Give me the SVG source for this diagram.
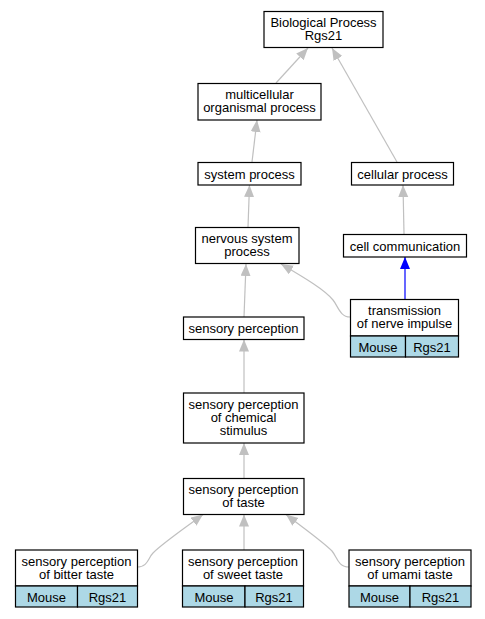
<svg xmlns="http://www.w3.org/2000/svg" width="485" height="619" viewBox="0 0 485 619">
<defs>
<style>
.box{fill:#fff;stroke:#000;stroke-width:1.2}
.cell{fill:#add8e6;stroke:#000;stroke-width:1.2}
text{font-family:"Liberation Sans",Arial,sans-serif;font-size:13px;text-anchor:middle;fill:#000}
.e{fill:none;stroke:#c0c0c0;stroke-width:1.2}
.b{fill:none;stroke:#0000ff;stroke-width:1.2}
</style>
<marker id="ag" markerUnits="userSpaceOnUse" markerWidth="13" markerHeight="11" refX="12" refY="5" orient="auto"><path d="M0,0 L12,5 L0,10 z" fill="#c0c0c0"/></marker>
<marker id="ab" markerUnits="userSpaceOnUse" markerWidth="13" markerHeight="11" refX="12" refY="5" orient="auto"><path d="M0,0 L12,5 L0,10 z" fill="#0000ff"/></marker>
</defs>
<rect width="485" height="619" fill="#fff"/>
<g id="edges">
<path class="e" d="M276,83 L308,48" marker-end="url(#ag)"/>
<path class="e" d="M397,162 L332,48" marker-end="url(#ag)"/>
<path class="e" d="M252,162 L257,120" marker-end="url(#ag)"/>
<path class="e" d="M248,227 L249.5,185" marker-end="url(#ag)"/>
<path class="e" d="M404,234 L403,185" marker-end="url(#ag)"/>
<path class="b" d="M405,299 L405,257" marker-end="url(#ab)"/>
<path class="e" d="M350,317 C340,317 338,306 333,300 C325,290 305,278 281,264" marker-end="url(#ag)"/>
<path class="e" d="M244,317 L246,264" marker-end="url(#ag)"/>
<path class="e" d="M244,393 L244,339.5" marker-end="url(#ag)"/>
<path class="e" d="M244,478 L244,443" marker-end="url(#ag)"/>
<path class="e" d="M137,567 C148,567 148,558 153,553 C163,543 185,528 203,514.5" marker-end="url(#ag)"/>
<path class="e" d="M244,550 L244,514.5" marker-end="url(#ag)"/>
<path class="e" d="M349,567 C338,567 337,557 332,551 C322,541 302,527 286,514.5" marker-end="url(#ag)"/>
</g>
<g id="bp"><rect class="box" x="264" y="11.5" width="119" height="36"/><text x="323.5" y="26.5">Biological Process</text><text x="323.5" y="39.5">Rgs21</text></g>
<g id="multicellular"><rect class="box" x="198" y="83.5" width="123" height="36.5"/><text x="259.5" y="98.5">multicellular</text><text x="259.5" y="111.5">organismal process</text></g>
<g id="system"><rect class="box" x="198" y="162.5" width="103" height="22.5"/><text x="249.5" y="178.5">system process</text></g>
<g id="cellular"><rect class="box" x="351.5" y="162.5" width="102" height="22.5"/><text x="402.5" y="178.5">cellular process</text></g>
<g id="nervous"><rect class="box" x="195.5" y="227.5" width="103.5" height="36"/><text x="247" y="242.5">nervous system</text><text x="247" y="255.5">process</text></g>
<g id="cellcomm"><rect class="box" x="343.5" y="234.5" width="123" height="22.5"/><text x="405" y="250.5">cell communication</text></g>
<g id="transmission"><rect class="box" x="350.5" y="299.5" width="108" height="36.5"/><text x="404.5" y="314.5">transmission</text><text x="404.5" y="327.5">of nerve impulse</text><rect class="cell" x="350.5" y="336" width="55" height="21"/><rect class="cell" x="405.5" y="336" width="53" height="21"/><text x="378" y="351.5">Mouse</text><text x="432" y="351.5">Rgs21</text></g>
<g id="sensory"><rect class="box" x="183.5" y="317" width="120.5" height="22.5"/><text x="243.5" y="332.5">sensory perception</text></g>
<g id="chemical"><rect class="box" x="183.5" y="393" width="120.5" height="50"/><text x="243.5" y="408.5">sensory perception</text><text x="243.5" y="421.5">of chemical</text><text x="243.5" y="434.5">stimulus</text></g>
<g id="taste"><rect class="box" x="183.5" y="478.5" width="120.5" height="36"/><text x="243.5" y="493.5">sensory perception</text><text x="243.5" y="506.5">of taste</text></g>
<g id="bitter"><rect class="box" x="15.5" y="550" width="122" height="36"/><text x="76.5" y="565.5">sensory perception</text><text x="76.5" y="578.5">of bitter taste</text><rect class="cell" x="15.5" y="586" width="62" height="21"/><rect class="cell" x="77.5" y="586" width="60" height="21"/><text x="46.5" y="601.5">Mouse</text><text x="107.5" y="601.5">Rgs21</text></g>
<g id="sweet"><rect class="box" x="182.5" y="550" width="121" height="36"/><text x="243" y="565.5">sensory perception</text><text x="243" y="578.5">of sweet taste</text><rect class="cell" x="182.5" y="586" width="62.5" height="21"/><rect class="cell" x="245" y="586" width="58.5" height="21"/><text x="214" y="601.5">Mouse</text><text x="274" y="601.5">Rgs21</text></g>
<g id="umami"><rect class="box" x="349" y="550" width="122" height="36"/><text x="410" y="565.5">sensory perception</text><text x="410" y="578.5">of umami taste</text><rect class="cell" x="349" y="586" width="61" height="21"/><rect class="cell" x="410" y="586" width="61" height="21"/><text x="379.5" y="601.5">Mouse</text><text x="440.5" y="601.5">Rgs21</text></g>
</svg>
